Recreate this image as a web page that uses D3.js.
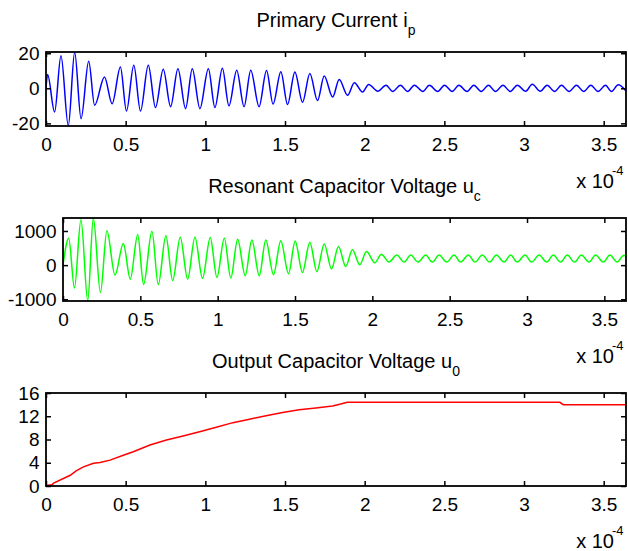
<!DOCTYPE html>
<html>
<head>
<meta charset="utf-8">
<script src="https://cdn.jsdelivr.net/npm/d3@7"></script>
<style>
  html, body { margin: 0; padding: 0; background: #fff; }
  svg { display: block; font-family: "Liberation Sans", Arial, Helvetica, sans-serif; }
</style>
</head>
<body>
<script>
// time axis in units of 1e-4 s
var xTicks = [0, 0.5, 1, 1.5, 2, 2.5, 3, 3.5];
var xMax = 3.64;

// primary current i_p (peaks / troughs)
var ipT = [0, 0.010, 0.054, 0.094, 0.140, 0.180, 0.220, 0.268, 0.305, 0.367, 0.415, 0.467, 0.505, 0.551,
  0.593, 0.642, 0.687, 0.736, 0.782, 0.828, 0.876, 0.918, 0.966, 1.019, 1.060, 1.107, 1.148, 1.197,
  1.243, 1.285, 1.337, 1.384, 1.425, 1.474, 1.516, 1.562, 1.610, 1.656, 1.704, 1.746, 1.799, 1.840,
  1.893, 1.935, 1.987, 2.025, 2.082, 2.134, 2.176, 2.224, 2.270, 2.312, 2.365, 2.406, 2.459, 2.501,
  2.549, 2.591, 2.643, 2.685, 2.731, 2.777, 2.821, 2.868, 2.914, 2.958, 3.010, 3.052, 3.102, 3.145,
  3.192, 3.235, 3.283, 3.329, 3.375, 3.419, 3.465, 3.511, 3.549, 3.591, 3.64];
var ipV = [0, 7.8, -13.5, 18.5, -21.3, 20.6, -17.3, 15.4, -9.7, 6.5, -8.8, 12.2, -13, 13.1,
  -13, 13.1, -11, 10.9, -10.5, 11.2, -11.6, 11.2, -11.6, 11.2, -11, 11.4, -10, 10.3,
  -10.5, 10.3, -10.5, 10.2, -9, 9.5, -9.2, 9.3, -8, 8.4, -7, 7, -5, 5,
  -4, 3.2, -2.1, 2.2, -1.7, 1.7, -1.8, 1.7, -1.8, 1.8, -1.8, 1.7, -1.8, 1.8,
  -1.8, 1.7, -1.8, 1.8, -1.8, 1.7, -1.8, 1.7, -1.8, 1.8, -1.7, 2.3, -1.7, 1.7,
  -1.8, 1.7, -1.8, 1.7, -1.8, 1.7, -1.8, 1.7, -1.8, 2.0, -1.5];
var ipTicks = [-20, 0, 20];

// resonant capacitor voltage u_c
var ucT = [0, 0.037, 0.074, 0.116, 0.160, 0.196, 0.242, 0.284, 0.336, 0.390, 0.435, 0.483, 0.521, 0.575,
  0.616, 0.665, 0.709, 0.758, 0.806, 0.853, 0.902, 0.952, 0.995, 1.043, 1.085, 1.129, 1.178, 1.221,
  1.269, 1.311, 1.361, 1.408, 1.458, 1.501, 1.548, 1.596, 1.641, 1.689, 1.736, 1.781, 1.828, 1.871,
  1.919, 1.962, 2.016, 2.058, 2.108, 2.158, 2.205, 2.248, 2.296, 2.345, 2.388, 2.431, 2.481, 2.528,
  2.571, 2.621, 2.664, 2.711, 2.758, 2.802, 2.851, 2.894, 2.937, 2.987, 3.030, 3.078, 3.127, 3.170,
  3.217, 3.260, 3.307, 3.351, 3.401, 3.443, 3.493, 3.536, 3.583, 3.626, 3.64];
var ucV = [0, 787, -670, 1332, -1040, 1375, -800, 1010, -290, 630, -410, 900, -565, 990,
  -570, 860, -450, 820, -410, 820, -390, 810, -360, 790, -380, 760, -310, 735,
  -310, 735, -280, 715, -250, 710, -215, 670, -190, 620, -110, 545, -40, 450,
  10, 400, 70, 320, 95, 295, 90, 295, 90, 295, 90, 295, 90, 295,
  90, 295, 90, 295, 90, 295, 90, 295, 90, 295, 90, 295, 90, 295,
  90, 295, 90, 295, 90, 295, 90, 295, 90, 290, 260];
var ucTicks = [-1000, 0, 1000];

// output capacitor voltage u_0
var u0T = [0, 0.037, 0.048, 0.152, 0.189, 0.235, 0.298, 0.339, 0.402, 0.485, 0.548, 0.652, 0.756, 0.860,
  0.964, 1.069, 1.173, 1.277, 1.381, 1.485, 1.589, 1.694, 1.798, 1.850, 1.890, 3.225, 3.246, 3.64];
var u0V = [0.1, 0.2, 0.5, 1.85, 2.6, 3.3, 3.9, 4.05, 4.45, 5.3, 5.9, 7.05, 7.9, 8.6,
  9.35, 10.1, 10.9, 11.5, 12.1, 12.65, 13.1, 13.4, 13.75, 14.1, 14.4, 14.4, 14.0, 14.0];
var u0Ticks = [0, 4, 8, 12, 16];

var svg = d3.select("body").append("svg")
  .attr("width", 628)
  .attr("height", 551);

var panels = [
  { title: "Primary Current i", sub: "p", t: ipT, v: ipV, ticks: ipTicks, yDomain: [-21.5, 20.7],
    color: "#0000ff", curve: d3.curveMonotoneX, left: 46, right: 626, top: 52, bottom: 126 },
  { title: "Resonant Capacitor Voltage u", sub: "c", t: ucT, v: ucV, ticks: ucTicks, yDomain: [-1050, 1380],
    color: "#00ff00", curve: d3.curveMonotoneX, left: 63, right: 626, top: 218, bottom: 301 },
  { title: "Output Capacitor Voltage u", sub: "0", t: u0T, v: u0V, ticks: u0Ticks, yDomain: [0, 16],
    color: "#ff0000", curve: d3.curveLinear, left: 46, right: 626, top: 393, bottom: 486 }
];

panels.forEach(function (p, i) {
  var x = d3.scaleLinear().domain([0, xMax]).range([p.left, p.right]);
  var y = d3.scaleLinear().domain(p.yDomain).range([p.bottom, p.top]);
  var g = svg.append("g");

  g.append("clipPath").attr("id", "clip" + i)
    .append("rect")
    .attr("x", p.left).attr("y", p.top)
    .attr("width", p.right - p.left).attr("height", p.bottom - p.top);

  var line = d3.line()
    .x(function (d) { return x(d[0]); })
    .y(function (d) { return y(d[1]); })
    .curve(p.curve);

  g.append("path")
    .datum(d3.zip(p.t, p.v))
    .attr("clip-path", "url(#clip" + i + ")")
    .attr("fill", "none")
    .attr("stroke", p.color)
    .attr("stroke-width", 1.5)
    .attr("d", line);

  var fmt = function (d) { return String(d); };

  var axB = g.append("g").attr("transform", "translate(0," + p.bottom + ")")
    .call(d3.axisBottom(x).tickValues(xTicks).tickFormat(fmt).tickSizeInner(-5).tickSizeOuter(0).tickPadding(12));
  var axL = g.append("g").attr("transform", "translate(" + p.left + ",0)")
    .call(d3.axisLeft(y).tickValues(p.ticks).tickFormat(fmt).tickSizeInner(-5).tickSizeOuter(0).tickPadding(6.5));
  var axT = g.append("g").attr("transform", "translate(0," + p.top + ")")
    .call(d3.axisTop(x).tickValues(xTicks).tickFormat("").tickSizeInner(-5).tickSizeOuter(0));
  var axR = g.append("g").attr("transform", "translate(" + p.right + ",0)")
    .call(d3.axisRight(y).tickValues(p.ticks).tickFormat("").tickSizeInner(-5).tickSizeOuter(0));

  [axB, axL, axT, axR].forEach(function (a) {
    a.select(".domain").remove();
    a.selectAll("line").attr("stroke", "#000").attr("stroke-width", 1.5);
    a.selectAll("text").attr("fill", "#000").style("font-size", "19px")
      .style("font-family", "\"Liberation Sans\", Arial, Helvetica, sans-serif");
  });

  g.append("rect")
    .attr("x", p.left).attr("y", p.top)
    .attr("width", p.right - p.left).attr("height", p.bottom - p.top)
    .attr("fill", "none").attr("stroke", "#000").attr("stroke-width", 1.8);

  var title = g.append("text")
    .attr("x", (p.left + p.right) / 2)
    .attr("y", p.top - 25)
    .attr("text-anchor", "middle")
    .style("font-size", "20px")
    .text(p.title);
  title.append("tspan").attr("dy", 8).style("font-size", "14px").text(p.sub);

  // exponent label under the x axis
  g.append("text")
    .attr("x", 614).attr("y", p.bottom + 62)
    .attr("text-anchor", "end")
    .style("font-size", "20px")
    .text("x 10");
  g.append("text")
    .attr("x", 612).attr("y", p.bottom + 49)
    .style("font-size", "13px")
    .text("-4");
});
</script>
</body>
</html>
